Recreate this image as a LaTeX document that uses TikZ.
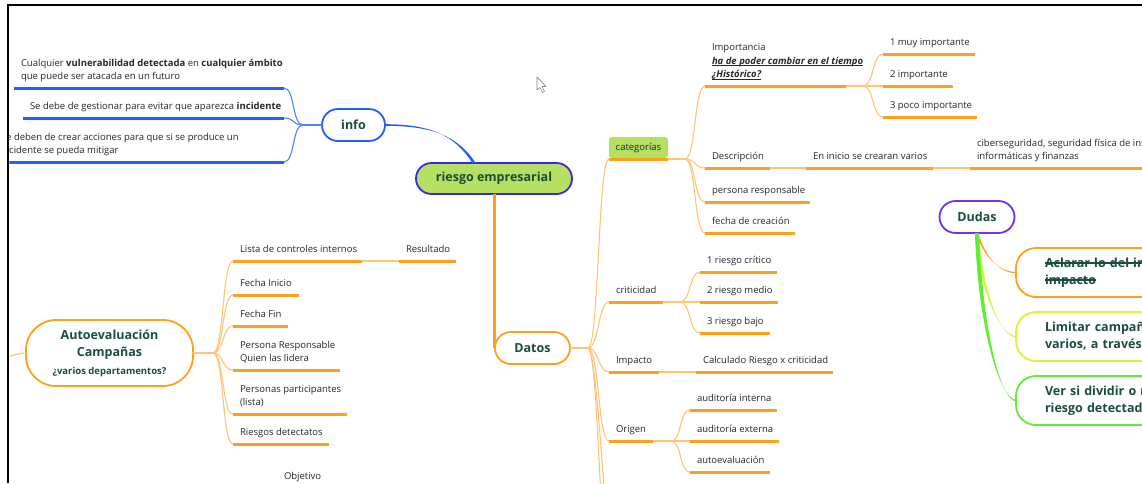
\documentclass[tikz,border=0pt]{standalone}
\usepackage{fontspec}
\setmainfont{Open Sans}

\definecolor{org}{RGB}{255,160,28}
\definecolor{orgl}{RGB}{255,196,118}
\definecolor{blu}{RGB}{35,95,255}
\definecolor{blul}{RGB}{80,130,255}
\definecolor{ind}{RGB}{60,40,225}
\definecolor{pur}{RGB}{120,45,245}
\definecolor{lime}{RGB}{181,224,97}
\definecolor{dgreen}{RGB}{26,77,58}
\definecolor{txt}{RGB}{40,40,40}
\definecolor{ylw}{RGB}{214,244,58}
\definecolor{grn}{RGB}{96,238,50}

% struck-through and underlined text
\newsavebox\mmbox
\newcommand\strk[1]{\leavevmode\hbox{\sbox\mmbox{#1}\rlap{\usebox\mmbox}\rule[0.3em]{\wd\mmbox}{1.1pt}}}
\newcommand\undl[1]{\leavevmode\hbox{\sbox\mmbox{#1}\rlap{\usebox\mmbox}\rule[-2.2pt]{\wd\mmbox}{0.9pt}}}

\tikzset{
  lbl/.style={font=\fontsize{9.5}{13.5}\selectfont, text=txt, inner xsep=7pt,
    inner ysep=8.5pt, text depth=0pt, align=left, outer sep=0pt},
  ubar/.style={line width=3pt},
  conn/.style={draw=orgl, line width=1.1pt},
  bconn/.style={draw=blul, line width=1.1pt},
  topic/.style={draw, line width=1.8pt, fill=white,
    font=\fontsize{12.5}{17}\selectfont\bfseries, text=dgreen,
    inner sep=0pt, outer sep=0pt},
  question/.style={topic, rounded corners=20pt, minimum height=49pt, text width=220pt,
    inner xsep=29pt, anchor=west, align=left},
}

% underlined label: [colour]{name}{x}{y of the bar}{bar length}{text}
\newcommand\mmleaf[6][org]{%
  \coordinate (#2-w) at (#3,#4);
  \path (#2-w) ++(#5,0) coordinate (#2-e);
  \node[lbl, anchor=south west] (#2) at (#2-w) {#6};
  \draw[ubar, draw=#1] (#2-w) -- (#2-e);
}
% curved branch leaving and entering horizontally
\newcommand\mmlink[3][conn]{\draw[#1] (#2) .. controls +(11,0) and +(-11,0) .. (#3);}
% tapering link from a topic's bottom to a box's left side:
% {colour}{from}{to}{first control}{second control}{half width at start}{half width at end}
\newcommand\mmtaper[7]{%
  \fill[#1] ([xshift=-#6pt]#2) .. controls +#4 and +#5 .. ([yshift=#7pt]#3)
     -- ([yshift=-#7pt]#3) .. controls +#5 and +#4 .. ([xshift=#6pt]#2) -- cycle;}

\begin{document}
\begin{tikzpicture}[x=1pt,y=-1pt]
\useasboundingbox (0,0) rectangle (1142,483);
\fill[white] (0,0) rectangle (1142,483);

\begin{scope}
\clip (9.3,6.3) rectangle (1142,483);

% ---------- main topics ----------
\node[topic, draw=ind, fill=lime, rounded corners=15.5pt, minimum width=156pt, minimum height=31pt] (root) at (494,178.5) {riesgo empresarial};
\node[topic, draw=blu, rounded corners=16pt, minimum width=63pt, minimum height=32pt] (info) at (353.5,125) {info};
\node[topic, draw=org, rounded corners=16pt, minimum width=75pt, minimum height=32pt] (datos) at (532.5,348) {Datos};
\node[topic, draw=org, rounded corners=30pt, minimum width=167pt, minimum height=66pt, align=center] (auto) at (109.5,353)
  {Autoevaluación\\Campañas\\[1pt]{\fontsize{9.5}{12}\selectfont ¿varios departamentos?}};
\node[topic, draw=pur, rounded corners=16pt, minimum width=75pt, minimum height=32pt] (dudas) at (977,217) {Dudas};

\fill[blu] ([xshift=-21.6pt]root.north) .. controls +(-18,-28) and +(45,0) .. ([yshift=0.8pt]info.east)
   -- ([yshift=-0.8pt]info.east) .. controls +(45,0) and +(-18,-28) .. ([xshift=-18.4pt]root.north) -- cycle;
\draw[org, line width=3pt] (root.south) -- (root.south |- datos.west);

% ---------- info ----------
\mmleaf[blu]{b1}{14}{88}{270}{Cualquier \textbf{vulnerabilidad detectada} en \textbf{cualquier ámbito}\\que puede ser atacada en un futuro}
\mmleaf[blu]{b2}{23}{118}{261}{Se debe de gestionar para evitar que aparezca \textbf{incidente}}
\mmleaf[blu]{b3}{-6}{162}{290}{Se deben de crear acciones para que si se produce un\\incidente se pueda mitigar}
\coordinate (infobp) at (303,125);
\draw[bconn] (info.west) -- (infobp);
\mmlink[bconn]{b1-e}{infobp}
\mmlink[bconn]{b2-e}{infobp}
\mmlink[bconn]{b3-e}{infobp}

% ---------- Autoevaluación ----------
\coordinate (autobp) at (213,353);
\draw[conn] (auto.east) -- (autobp);
\draw[conn] (auto.west) .. controls +(-8,0) and +(8,-3) .. (-4,361);
\mmleaf{a1}{233}{261}{129}{Lista de controles internos}
\mmleaf{a1r}{399}{261}{57}{Resultado}
\mmleaf{a2}{233}{295}{66}{Fecha Inicio}
\mmleaf{a3}{233}{326}{55}{Fecha Fin}
\mmleaf{a4}{233}{370}{107}{Persona Responsable\\Quien las lidera}
\mmleaf{a5}{233}{414}{114}{Personas participantes\\(lista)}
\mmleaf{a6}{233}{444}{96}{Riesgos detectatos}
\mmleaf{a7}{277}{488}{50}{Objetivo}
\draw[conn] (a1-e) -- (a1r-w);
\foreach \n in {a1,a2,a3,a4,a5,a6} {\mmlink{autobp}{\n-w}}

% ---------- Datos ----------
\coordinate (datosbp) at (588,348);
\draw[conn] (datos.east) -- (datosbp);

\node[fill=lime, rounded corners=3pt, minimum width=59pt, minimum height=21pt, inner sep=0pt, outer sep=0pt,
  font=\fontsize{9.5}{13.5}\selectfont, text=txt] (cat) at (638.5,147.5) {categorías};
\coordinate (cat-w) at (609,159);
\coordinate (cat-e) at (668,159);
\draw[ubar, org] (cat-w) -- (cat-e);

\mmleaf{crit}{609}{302}{54}{criticidad}
\mmleaf{imp}{609}{372}{50}{Impacto}
\mmleaf{orig}{609}{441}{44}{Origen}
\coordinate (dx1) at (612,610);
\coordinate (dx2) at (620,625);
\foreach \n in {cat,crit,imp,orig} {\mmlink{datosbp}{\n-w}}
\mmlink{datosbp}{dx1}
\mmlink{datosbp}{dx2}

% categorías
\coordinate (catbp) at (685,159);
\draw[conn] (cat-e) -- (catbp);
\mmleaf{c1}{705}{86}{141}{Importancia\\\textbf{\textit{\undl{ha de poder cambiar en el tiempo}}}\\\textbf{\textit{\undl{¿Histórico?}}}}
\mmleaf{c2}{705}{168}{65}{Descripción}
\mmleaf{c2a}{806}{168}{127}{En inicio se crearan varios}
\mmleaf{c2b}{970}{168}{200}{ciberseguridad, seguridad física de ins\\informáticas y finanzas}
\mmleaf{c3}{705}{202}{105}{persona responsable}
\mmleaf{c4}{705}{233}{90}{fecha de creación}
\foreach \n in {c1,c2,c3,c4} {\mmlink{catbp}{\n-w}}
\draw[conn] (c2-e) -- (c2a-w);
\draw[conn] (c2a-e) -- (c2b-w);

\coordinate (c1bp) at (863,86);
\draw[conn] (c1-e) -- (c1bp);
\mmleaf{i1}{883}{54}{92}{1 muy importante}
\mmleaf{i2}{883}{86}{70}{2 importante}
\mmleaf{i3}{883}{117}{94}{3 poco importante}
\foreach \n in {i1,i2,i3} {\mmlink{c1bp}{\n-w}}

% criticidad
\coordinate (critbp) at (680,302);
\draw[conn] (crit-e) -- (critbp);
\mmleaf{k1}{700}{272}{77}{1 riesgo crítico}
\mmleaf{k2}{700}{302}{78}{2 riesgo medio}
\mmleaf{k3}{700}{333}{70}{3 riesgo bajo}
\foreach \n in {k1,k2,k3} {\mmlink{critbp}{\n-w}}

% impacto
\mmleaf{imp1}{696}{372}{137}{Calculado Riesgo x criticidad}
\draw[conn] (imp-e) -- (imp1-w);

% origen
\coordinate (origbp) at (671,441);
\draw[conn] (orig-e) -- (origbp);
\mmleaf{o1}{690}{410}{87}{auditoría interna}
\mmleaf{o2}{690}{441}{89}{auditoría externa}
\mmleaf{o3}{690}{472}{80}{autoevaluación}
\foreach \n in {o1,o2,o3} {\mmlink{origbp}{\n-w}}

% ---------- Dudas ----------
\node[question, draw=org] (d1) at (1016,272.5) {\strk{Aclarar lo del im}\\\strk{impacto}};
\node[question, draw=ylw] (d2) at (1016,336.5) {Limitar campañ\\varios, a través d};
\node[question, draw=grn] (d3) at (1016,400.5) {Ver si dividir o n\\riesgo detectad};
\mmtaper{org}{dudas.south}{d1.west}{(7,22)}{(-18,0)}{1.1}{0.6}
\mmtaper{ylw}{dudas.south}{d2.west}{(4,58)}{(-16,0)}{1.6}{0.6}
\mmtaper{grn}{dudas.south}{d3.west}{(4,105)}{(-14,0)}{2.1}{0.7}

% pointer
\draw[fill=white, draw=gray, line width=0.6pt, line join=round]
  (537,77) -- (537,90) -- (540,87.5) -- (542.5,92.5) -- (544.5,91.5) -- (542,86.5) -- (546,86.5) -- cycle;
\end{scope}

% frame
\draw[line width=2.5pt] (8,483) -- (8,5) -- (1145,5);
\end{tikzpicture}
\end{document}
